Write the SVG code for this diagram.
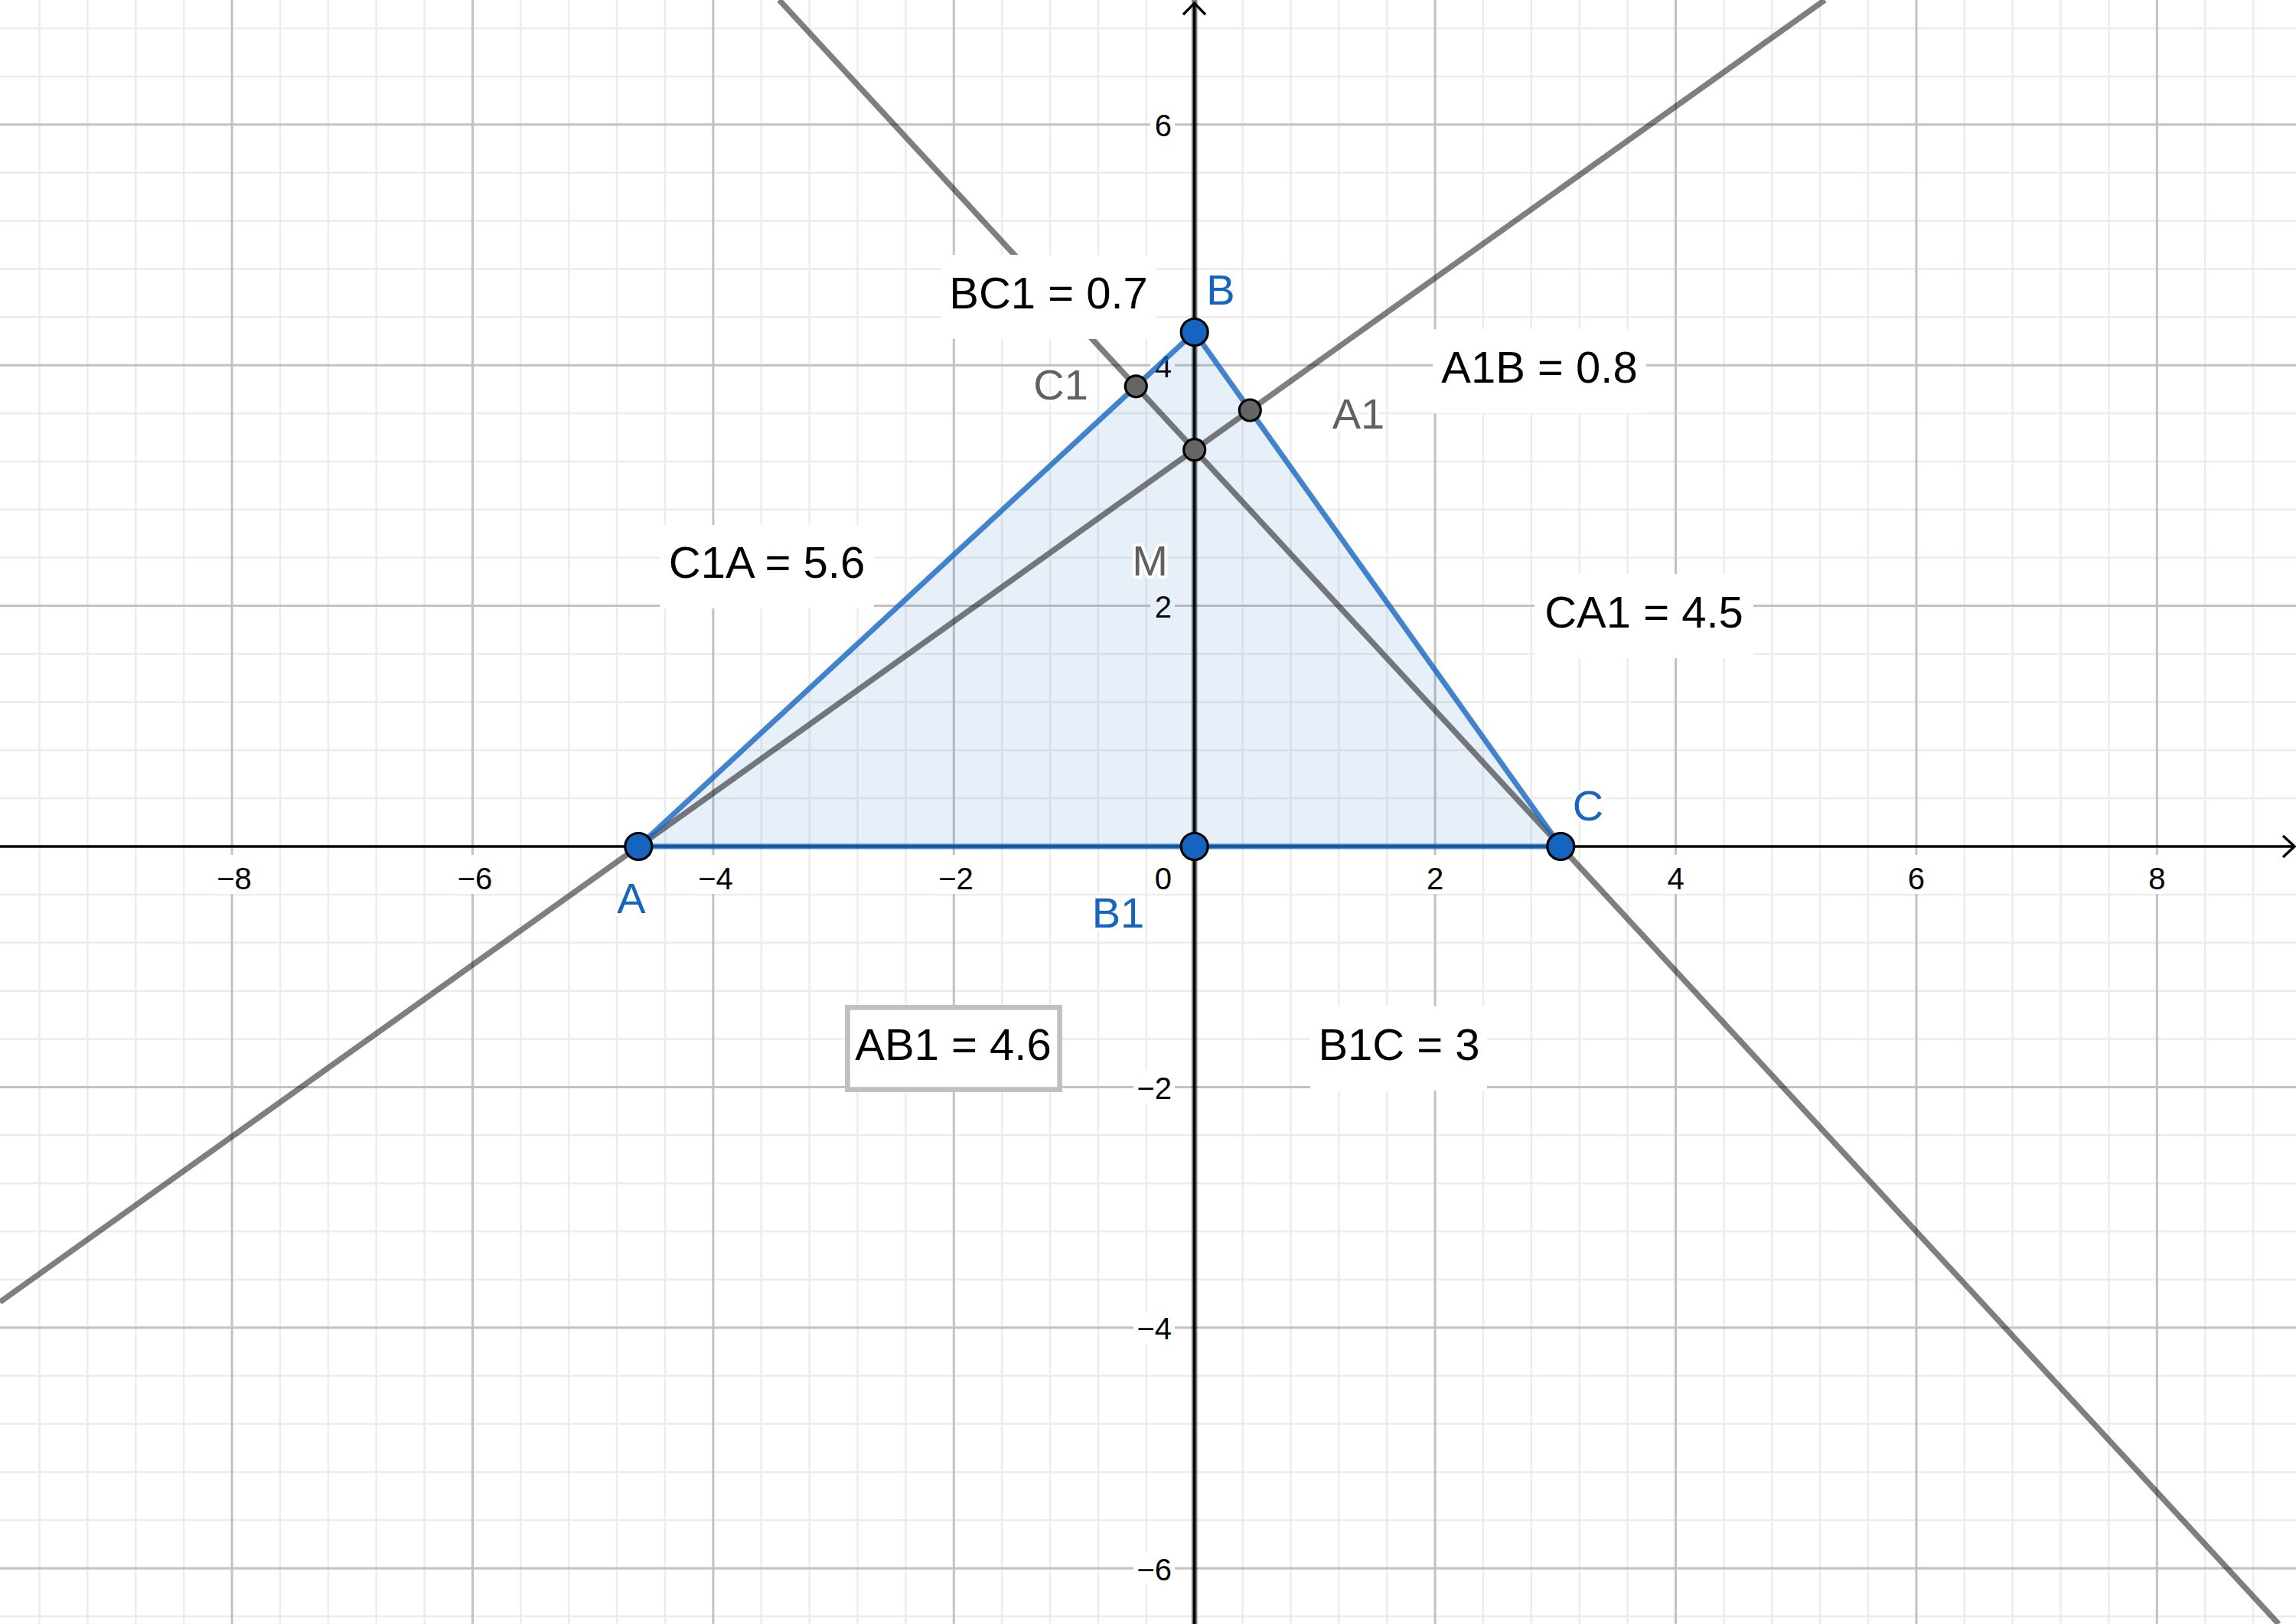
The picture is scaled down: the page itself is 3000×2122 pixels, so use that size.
<svg xmlns="http://www.w3.org/2000/svg" width="3000" height="2122" viewBox="0 0 3000 2122">
<defs>
<style>
.bg{fill:#fff}
.minor{stroke:#ececec;stroke-width:2.5;fill:none}
.major{stroke:#c2c2c2;stroke-width:3;fill:none}
.tick{font-family:"Liberation Sans",Arial,sans-serif;font-size:40px;fill:#000}
.tc{text-anchor:middle}
.te{text-anchor:end}
.axis{stroke:#000;stroke-width:3.3;fill:none}
.line{stroke:#000;stroke-opacity:0.5;stroke-width:7.5;fill:none}
.seg{stroke:#1565C0;stroke-opacity:0.8;stroke-width:7;fill:none;stroke-linecap:round}
.poly{fill:#1565C0;fill-opacity:0.1;stroke:none}
.pb{fill:#1565C0;stroke:#000;stroke-width:3.2}
.pg{fill:#656565;stroke:#000;stroke-width:3.2}
.plab{font-family:"Liberation Sans",Arial,sans-serif;font-size:56px;text-anchor:middle;stroke:#fff;stroke-width:8;stroke-linejoin:round;paint-order:stroke}
.blue{fill:#1565C0}
.gray{fill:#616161}
.mlab{font-family:"Liberation Sans",Arial,sans-serif;font-size:58px;text-anchor:middle;fill:#000}
.mbg{fill:#fff;stroke:none}
.mbox{fill:#fff;stroke:#c0c0c0;stroke-width:6.7}
</style>
</defs>
<rect class="bg" x="0" y="0" width="3000" height="2122"/>
<g id="grid">
<path class="minor" d="M51.58 0V2122M114.46 0V2122M177.34 0V2122M240.22 0V2122M365.98 0V2122M428.86 0V2122M491.74 0V2122M554.62 0V2122M680.38 0V2122M743.26 0V2122M806.14 0V2122M869.02 0V2122M994.78 0V2122M1057.66 0V2122M1120.54 0V2122M1183.42 0V2122M1309.18 0V2122M1372.06 0V2122M1434.94 0V2122M1497.82 0V2122M1623.58 0V2122M1686.46 0V2122M1749.34 0V2122M1812.22 0V2122M1937.98 0V2122M2000.86 0V2122M2063.74 0V2122M2126.62 0V2122M2252.38 0V2122M2315.26 0V2122M2378.14 0V2122M2441.02 0V2122M2566.78 0V2122M2629.66 0V2122M2692.54 0V2122M2755.42 0V2122M2881.18 0V2122M2944.06 0V2122
M0 37.04H3000M0 99.92H3000M0 225.68H3000M0 288.56H3000M0 351.44H3000M0 414.32H3000M0 540.08H3000M0 602.96H3000M0 665.84H3000M0 728.72H3000M0 854.48H3000M0 917.36H3000M0 980.24H3000M0 1043.12H3000M0 1168.88H3000M0 1231.76H3000M0 1294.64H3000M0 1357.52H3000M0 1483.28H3000M0 1546.16H3000M0 1609.04H3000M0 1671.92H3000M0 1797.68H3000M0 1860.56H3000M0 1923.44H3000M0 1986.32H3000M0 2112.08H3000"/>
<path class="major" d="M303.1 0V2122M617.5 0V2122M931.9 0V2122M1246.3 0V2122M1875.1 0V2122M2189.5 0V2122M2503.9 0V2122M2818.3 0V2122M0 162.8H3000M0 477.2H3000M0 791.6H3000M0 1420.4H3000M0 1734.8H3000M0 2049.2H3000"/>
</g>
<g id="tick-labels">
<rect class="bg" x="278" y="1117" width="56" height="51"/>
<rect class="bg" x="592" y="1117" width="56" height="51"/>
<rect class="bg" x="907" y="1117" width="56" height="51"/>
<rect class="bg" x="1221" y="1117" width="56" height="51"/>
<rect class="bg" x="1503" y="1117" width="32" height="51"/>
<rect class="bg" x="1859" y="1117" width="32" height="51"/>
<rect class="bg" x="2173" y="1117" width="32" height="51"/>
<rect class="bg" x="2488" y="1117" width="32" height="51"/>
<rect class="bg" x="2802" y="1117" width="32" height="51"/>
<rect class="bg" x="1503" y="141" width="32" height="44"/>
<rect class="bg" x="1503" y="455" width="32" height="44"/>
<rect class="bg" x="1503" y="770" width="32" height="44"/>
<rect class="bg" x="1481" y="1398" width="54" height="44"/>
<rect class="bg" x="1481" y="1713" width="54" height="44"/>
<rect class="bg" x="1481" y="2027" width="54" height="44"/>
<text class="tick tc" x="306" y="1162">−8</text>
<text class="tick tc" x="620.5" y="1162">−6</text>
<text class="tick tc" x="935" y="1162">−4</text>
<text class="tick tc" x="1249" y="1162">−2</text>
<text class="tick te" x="1531" y="1162">0</text>
<text class="tick tc" x="1875.1" y="1162">2</text>
<text class="tick tc" x="2189.5" y="1162">4</text>
<text class="tick tc" x="2503.9" y="1162">6</text>
<text class="tick tc" x="2818.3" y="1162">8</text>
<text class="tick te" x="1531" y="178.3">6</text>
<text class="tick te" x="1531" y="492.7">4</text>
<text class="tick te" x="1531" y="807.1">2</text>
<text class="tick te" x="1531" y="1435.9">−2</text>
<text class="tick te" x="1531" y="1750.3">−4</text>
<text class="tick te" x="1531" y="2064.7">−6</text>
</g>
<g id="axes">
<line class="axis" x1="0" y1="1106" x2="2997" y2="1106"/>
<polyline class="axis" points="2983,1092 2998,1106 2983,1120"/>
<line class="axis" x1="1560.7" y1="2122" x2="1560.7" y2="5"/>
<polyline class="axis" points="1546,19 1560.7,4 1575,19"/>
</g>
<polygon id="triangle-fill" class="poly" points="834.3,1106 1560.7,434 2039.3,1106"/>
<g id="connectors">
<line id="line-AA1" class="line" x1="0" y1="1701.3" x2="2384.4" y2="0"/>
<line id="line-CC1" class="line" x1="1018" y1="0" x2="2977.4" y2="2122"/>
<line id="line-BB1" class="line" x1="1560.7" y1="0" x2="1560.7" y2="2122"/>
<line id="seg-AB" class="seg" x1="834.3" y1="1106" x2="1560.7" y2="434"/>
<line id="seg-BC" class="seg" x1="1560.7" y1="434" x2="2039.3" y2="1106"/>
<line id="seg-CA" class="seg" x1="2039.3" y1="1106" x2="834.3" y2="1106"/>
</g>
<g id="label-BC1">
<rect class="mbg" x="1230" y="333" width="281" height="110"/>
<text class="mlab" x="1370" y="403">BC1 = 0.7</text>
</g>
<g id="label-A1B">
<rect class="mbg" x="1872" y="430" width="279" height="110"/>
<text class="mlab" x="2011.5" y="500">A1B = 0.8</text>
</g>
<g id="label-C1A">
<rect class="mbg" x="862" y="686" width="280" height="109"/>
<text class="mlab" x="1002" y="755">C1A = 5.6</text>
</g>
<g id="label-CA1">
<rect class="mbg" x="2005" y="750" width="286" height="110"/>
<text class="mlab" x="2148" y="820">CA1 = 4.5</text>
</g>
<g id="label-B1C">
<rect class="mbg" x="1712" y="1315" width="231" height="110"/>
<text class="mlab" x="1828" y="1385">B1C = 3</text>
</g>
<g id="label-AB1">
<rect class="mbox" x="1107.4" y="1316.4" width="277.2" height="107.2"/>
<text class="mlab" x="1245.5" y="1385">AB1 = 4.6</text>
</g>
<g id="node-A">
<circle class="pb" cx="834.3" cy="1106" r="17.5"/>
<text class="plab blue" x="825" y="1193">A</text>
</g>
<g id="node-B">
<circle class="pb" cx="1560.7" cy="434" r="17.5"/>
<text class="plab blue" x="1595" y="398">B</text>
</g>
<g id="node-C">
<circle class="pb" cx="2039.3" cy="1106" r="17.5"/>
<text class="plab blue" x="2075" y="1072">C</text>
</g>
<g id="node-B1">
<circle class="pb" cx="1560.7" cy="1106" r="17.5"/>
<text class="plab blue" x="1461" y="1212">B1</text>
</g>
<g id="node-C1">
<circle class="pg" cx="1484.3" cy="504.8" r="14"/>
<text class="plab gray" x="1386" y="522">C1</text>
</g>
<g id="node-A1">
<circle class="pg" cx="1633.3" cy="536" r="14"/>
<text class="plab gray" x="1775" y="560">A1</text>
</g>
<g id="node-M">
<circle class="pg" cx="1560.7" cy="587.7" r="14"/>
<text class="plab gray" x="1502.5" y="752">M</text>
</g>
</svg>
